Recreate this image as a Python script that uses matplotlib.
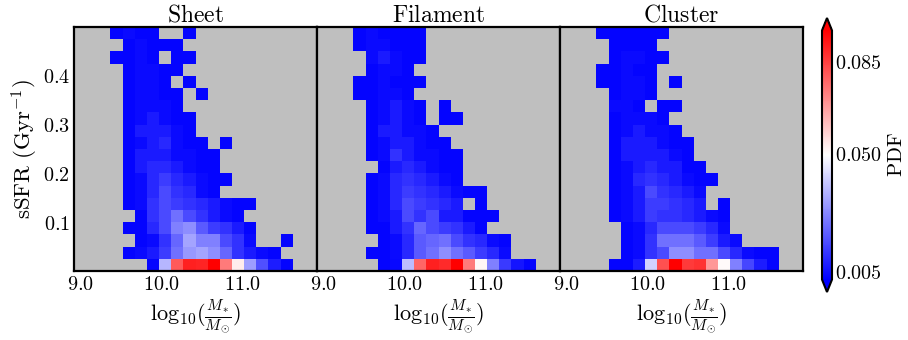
import numpy as np
import matplotlib
matplotlib.use('Agg')
import matplotlib.pyplot as plt
from matplotlib.colors import Normalize

plt.rcParams['mathtext.fontset'] = 'cm'
plt.rcParams['font.family'] = ['DejaVu Serif']

titles = ['Sheet', 'Filament', 'Cluster']
mass_edges = np.round(np.linspace(8.92, 11.92, 21), 3)
ssfr_edges = np.linspace(0.0, 0.5, 21)
xtick_vals = [9.0, 10.0, 11.0]
ytick_vals = [0.1, 0.2, 0.3, 0.4]
cbar_ticks = [0.005, 0.050, 0.085]

# PDF values in units of 1e-3; rows listed from top (high sSFR) to bottom; 0 = empty
pdf_sheet = [
    [0, 0, 0, 3, 4, 3, 3, 0, 0, 3, 0, 0, 0, 0, 0, 0, 0, 0, 0, 0],
    [0, 0, 0, 0, 3, 4, 3, 3, 3, 0, 0, 0, 0, 0, 0, 0, 0, 0, 0, 0],
    [0, 0, 0, 3, 3, 4, 3, 0, 3, 3, 0, 0, 0, 0, 0, 0, 0, 0, 0, 0],
    [0, 0, 0, 0, 3, 4, 4, 3, 3, 0, 0, 0, 0, 0, 0, 0, 0, 0, 0, 0],
    [0, 0, 0, 0, 3, 4, 4, 3, 0, 3, 0, 0, 0, 0, 0, 0, 0, 0, 0, 0],
    [0, 0, 0, 0, 3, 4, 4, 3, 3, 0, 3, 0, 0, 0, 0, 0, 0, 0, 0, 0],
    [0, 0, 0, 0, 3, 4, 4, 4, 3, 0, 0, 0, 0, 0, 0, 0, 0, 0, 0, 0],
    [0, 0, 0, 0, 3, 4, 7, 4, 3, 3, 0, 0, 0, 0, 0, 0, 0, 0, 0, 0],
    [0, 0, 0, 0, 3, 7, 7, 7, 4, 3, 0, 0, 0, 0, 0, 0, 0, 0, 0, 0],
    [0, 0, 0, 0, 3, 4, 7, 9.5, 4, 3, 3, 0, 3, 0, 0, 0, 0, 0, 0, 0],
    [0, 0, 0, 0, 3, 7, 7, 7, 4, 4, 3, 3, 0, 0, 0, 0, 0, 0, 0, 0],
    [0, 0, 0, 0, 3, 7, 9.5, 9.5, 7, 4, 3, 3, 0, 0, 0, 0, 0, 0, 0, 0],
    [0, 0, 0, 0, 3, 4, 9.5, 13.5, 9.5, 7, 4, 3, 3, 0, 0, 0, 0, 0, 0, 0],
    [0, 0, 0, 0, 3, 4, 9.5, 16, 11.5, 9.5, 4, 3, 0, 0, 0, 0, 0, 0, 0, 0],
    [0, 0, 0, 0, 3, 4, 11.5, 16, 13.5, 11.5, 9.5, 7, 4, 3, 3, 0, 0, 0, 0, 0],
    [0, 0, 0, 0, 0, 3, 11.5, 16, 23, 16, 11.5, 7, 4, 3, 0, 0, 0, 0, 0, 0],
    [0, 0, 0, 0, 3, 3, 9.5, 16, 26, 28.5, 19, 13.5, 11.5, 7, 3, 0, 0, 0, 0, 0],
    [0, 0, 0, 0, 0, 3, 4, 11.5, 21, 32.5, 26, 26, 16, 11.5, 4, 0, 0, 3, 0, 0],
    [0, 0, 0, 0, 3, 4, 7, 13.5, 23, 30.5, 32.5, 28.5, 21, 11.5, 7, 4, 3, 0, 0, 0],
    [0, 0, 0, 0, 0, 0, 3, 36, 80, 91, 90, 98, 74, 53, 31.5, 17, 7.5, 3, 0, 0],
]

pdf_filament = [
    [0, 0, 0, 3, 4, 3, 3, 3, 3, 0, 0, 0, 0, 0, 0, 0, 0, 0, 0, 0],
    [0, 0, 0, 3, 4, 4, 3, 3, 3, 0, 0, 0, 0, 0, 0, 0, 0, 0, 0, 0],
    [0, 0, 0, 0, 4, 7, 4, 3, 3, 0, 0, 0, 0, 0, 0, 0, 0, 0, 0, 0],
    [0, 0, 0, 0, 3, 4, 4, 3, 0, 0, 0, 0, 0, 0, 0, 0, 0, 0, 0, 0],
    [0, 0, 0, 3, 3, 4, 3, 3, 3, 0, 0, 0, 0, 0, 0, 0, 0, 0, 0, 0],
    [0, 0, 0, 3, 3, 4, 4, 3, 0, 0, 0, 0, 0, 0, 0, 0, 0, 0, 0, 0],
    [0, 0, 0, 0, 3, 4, 7, 4, 3, 0, 3, 0, 0, 0, 0, 0, 0, 0, 0, 0],
    [0, 0, 0, 0, 3, 4, 7, 4, 3, 0, 3, 3, 0, 0, 0, 0, 0, 0, 0, 0],
    [0, 0, 0, 0, 3, 7, 7, 4, 4, 3, 0, 0, 0, 0, 0, 0, 0, 0, 0, 0],
    [0, 0, 0, 0, 3, 4, 7, 7, 4, 3, 3, 0, 0, 0, 0, 0, 0, 0, 0, 0],
    [0, 0, 0, 0, 3, 4, 11.5, 7, 4, 4, 3, 3, 0, 0, 0, 0, 0, 0, 0, 0],
    [0, 0, 0, 0, 0, 3, 7, 9.5, 7, 4, 3, 3, 0, 0, 0, 0, 0, 0, 0, 0],
    [0, 0, 0, 0, 3, 4, 9.5, 11.5, 9.5, 7, 4, 3, 0, 0, 0, 0, 0, 0, 0, 0],
    [0, 0, 0, 0, 3, 4, 9.5, 13.5, 11.5, 9.5, 7, 4, 3, 3, 0, 0, 0, 0, 0, 0],
    [0, 0, 0, 0, 3, 4, 9.5, 16, 13.5, 11.5, 9.5, 7, 0, 3, 0, 0, 0, 0, 0, 0],
    [0, 0, 0, 0, 3, 4, 7, 16, 11.5, 16, 7, 7, 3, 3, 3, 0, 0, 0, 0, 0],
    [0, 0, 0, 0, 3, 3, 7, 11.5, 21, 16, 13.5, 11.5, 7, 3, 0, 0, 0, 0, 0, 0],
    [0, 0, 0, 0, 0, 3, 4, 9.5, 19, 21, 23, 16, 11.5, 9.5, 4, 3, 0, 0, 0, 0],
    [0, 0, 0, 0, 3, 3, 4, 9.5, 19, 23, 28.5, 23, 19, 13.5, 9.5, 4, 0, 0, 0, 0],
    [0, 0, 0, 0, 0, 3, 3.5, 37, 78, 91, 89, 98, 74, 51, 26, 13, 6, 3, 0, 0],
]

pdf_cluster = [
    [0, 0, 0, 3, 3, 3, 3, 3, 3, 0, 0, 0, 0, 0, 0, 0, 0, 0, 0, 0],
    [0, 0, 0, 0, 3, 3, 3, 3, 0, 0, 0, 0, 0, 0, 0, 0, 0, 0, 0, 0],
    [0, 0, 0, 0, 3, 4, 4, 3, 3, 0, 0, 0, 0, 0, 0, 0, 0, 0, 0, 0],
    [0, 0, 0, 3, 3, 4, 3, 3, 0, 0, 0, 0, 0, 0, 0, 0, 0, 0, 0, 0],
    [0, 0, 0, 3, 3, 4, 4, 3, 0, 3, 0, 0, 0, 0, 0, 0, 0, 0, 0, 0],
    [0, 0, 0, 0, 3, 4, 4, 3, 0, 0, 0, 0, 0, 0, 0, 0, 0, 0, 0, 0],
    [0, 0, 0, 0, 4, 4, 3, 0, 3, 3, 0, 0, 0, 0, 0, 0, 0, 0, 0, 0],
    [0, 0, 0, 0, 3, 4, 4, 4, 3, 0, 0, 0, 0, 0, 0, 0, 0, 0, 0, 0],
    [0, 0, 0, 0, 3, 4, 7, 4, 4, 3, 0, 0, 0, 0, 0, 0, 0, 0, 0, 0],
    [0, 0, 0, 0, 3, 7, 7, 7, 4, 3, 3, 0, 0, 0, 0, 0, 0, 0, 0, 0],
    [0, 0, 0, 0, 3, 7, 7, 7, 7, 4, 3, 0, 0, 0, 0, 0, 0, 0, 0, 0],
    [0, 0, 0, 0, 3, 4, 7, 9.5, 7, 7, 3, 3, 0, 0, 0, 0, 0, 0, 0, 0],
    [0, 0, 0, 0, 3, 4, 9.5, 11.5, 9.5, 7, 4, 3, 3, 0, 0, 0, 0, 0, 0, 0],
    [0, 0, 0, 0, 3, 4, 7, 16, 11.5, 9.5, 7, 4, 0, 0, 0, 0, 0, 0, 0, 0],
    [0, 0, 0, 0, 3, 4, 7, 13.5, 13.5, 11.5, 9.5, 7, 0, 3, 0, 0, 0, 0, 0, 0],
    [0, 0, 0, 0, 3, 4, 7, 13.5, 11.5, 11.5, 9.5, 7, 4, 3, 0, 0, 0, 0, 0, 0],
    [0, 0, 0, 0, 0, 3, 4, 9.5, 16, 16, 16, 13.5, 9.5, 4, 0, 0, 0, 0, 0, 0],
    [0, 0, 0, 0, 0, 3, 4, 11.5, 23, 23, 23, 19, 13.5, 7, 4, 0, 0, 0, 0, 0],
    [0, 0, 0, 0, 0, 3, 4, 11.5, 16, 28.5, 28.5, 23, 23, 16, 9.5, 4, 3, 3, 0, 0],
    [0, 0, 0, 0, 3, 3, 7.5, 41, 82, 98, 86, 87.5, 68.5, 50.5, 26, 15, 7.5, 3, 0, 0],
]

panels = [pdf_sheet, pdf_filament, pdf_cluster]

fig = plt.figure(figsize=(9.08, 3.4), dpi=100)
W, H = 908.0, 340.0
lefts = [74, 317, 560]
norm = Normalize(vmin=0.002, vmax=0.097)
cmap = plt.get_cmap('bwr')

mesh = None
for i, (title, data) in enumerate(zip(titles, panels)):
    ax = fig.add_axes([lefts[i] / W, 69 / H, 243 / W, 244 / H])
    ax.set_facecolor('#bfbfbf')
    arr = np.array(data, dtype=float)[::-1] * 1e-3
    arr = np.ma.masked_where(arr <= 0, arr)
    mesh = ax.pcolormesh(mass_edges, ssfr_edges, arr, cmap=cmap, norm=norm)
    ax.set_xlim(mass_edges[0], mass_edges[-1])
    ax.set_ylim(ssfr_edges[0], ssfr_edges[-1])
    ax.set_xticks(xtick_vals)
    ax.set_xticklabels([r'$%.1f$' % v for v in xtick_vals], fontsize=14.5)
    if i == 0:
        ax.set_yticks(ytick_vals)
        ax.set_yticklabels([r'$%.1f$' % v for v in ytick_vals], fontsize=14.5)
        ax.set_ylabel(r'$\mathrm{sSFR\ (Gyr^{-1})}$', fontsize=16.5, labelpad=2)
    else:
        ax.set_yticks([])
    ax.tick_params(length=0, pad=3)
    ax.set_xlabel(r'$\mathrm{log}_{10}(\frac{M_{*}}{M_{\odot}})$', fontsize=16, labelpad=2)
    ax.set_title(r'$\mathrm{%s}$' % title, fontsize=17, pad=3)
    for sp in ax.spines.values():
        sp.set_linewidth(1.6)
        sp.set_color('black')

cax = fig.add_axes([822 / W, 48 / H, 10 / W, 274 / H])
cb = fig.colorbar(mesh, cax=cax, extend='both', ticks=cbar_ticks)
cb.ax.set_yticklabels([r'$%.3f$' % v for v in cbar_ticks], fontsize=14.5)
cb.ax.tick_params(length=0, pad=2)
cb.outline.set_linewidth(1.5)
cb.set_label(r'$\mathrm{PDF}$', fontsize=15, labelpad=4)

fig.savefig('out.png', dpi=100)
